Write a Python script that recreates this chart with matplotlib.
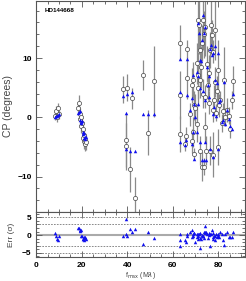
import matplotlib
matplotlib.use('Agg')
import matplotlib.pyplot as plt
from matplotlib.ticker import MultipleLocator

plt.rcParams['font.family'] = ['Liberation Sans', 'DejaVu Sans']

star = 'HD144668'

# spatial frequency (Mlambda), observed CP, its error, model CP, residual (sigma)
freq = [8.0, 8.5, 9.0, 9.5, 10.0,
        18.5, 18.8, 19.0, 19.2, 19.5, 19.8, 20.0, 20.3, 20.5, 20.8, 21.0, 21.3, 21.5, 21.8,
        38.2, 40.0, 42.0, 39.5, 39.3, 41.4, 43.6, 47.0, 49.3, 51.7,
        63.4, 63.4, 63.2, 66.3, 66.3, 66.0, 65.6, 68.8, 68.6, 69.2, 69.0, 68.4, 69.2,
        71.0, 71.4, 71.8, 70.6, 71.0, 71.8, 71.2, 70.8, 72.0, 73.0,
        73.5, 74.2, 73.0, 73.6, 76.2, 77.0, 77.3, 77.6, 78.4, 80.0, 82.4,
        73.4, 74.0, 75.5, 76.0, 77.5, 78.0, 79.0, 80.2, 81.0, 82.0, 83.0,
        84.0, 84.6, 86.0, 86.5, 74.0, 74.5, 73.8, 77.5, 80.0, 76.5,
        79.5, 75.0, 72.5, 75.8, 78.5, 67.5, 70.0, 81.5, 85.0]
cp_obs = [0.3, 1.0, 0.0, 1.5, 0.5,
          1.5, 2.5, 0.5, -0.3, -1.5, 0.0, -1.0, -2.0, -3.5, -4.0, -3.0, -4.5, -3.8, -4.2,
          4.7, 5.0, 3.2, -3.9, -4.9, -8.8, -13.6, 7.1, -2.6, 6.1,
          12.6, 3.8, -2.8, 11.5, 6.6, -3.2, -4.5, 6.3, 5.4, 2.0, -2.5, -4.0, -6.2,
          16.4, 15.6, 11.4, 9.1, 7.1, 6.3, 4.9, -1.1, -5.6, -8.3,
          16.4, 15.3, 12.5, 14.0, 11.4, 15.6, 13.9, 11.1, 14.7, 8.0, 6.3,
          4.0, 3.5, 5.4, 2.5, 1.2, 3.0, 0.8, 2.0, 3.0, 1.0, 0.1,
          1.2, 0.3, 2.9, 6.1, -1.6, -5.6, -8.3, -6.3, -5.0, -5.6,
          4.5, 9.0, 8.5, 7.5, 6.0, 0.5, 1.5, -1.0, -2.0]
cp_err = [0.8, 0.9, 0.8, 1.0, 0.8,
          1.0, 1.3, 1.0, 1.0, 1.2, 1.0, 1.0, 1.2, 1.0, 1.3, 1.0, 1.2, 1.0, 1.3,
          2.3, 2.3, 1.8, 4.5, 4.0, 3.8, 3.6, 2.5, 3.8, 6.0,
          3.0, 4.0, 3.0, 1.5, 3.5, 1.5, 1.2, 3.0, 3.0, 2.5, 2.5, 2.0, 1.0,
          5.0, 5.0, 4.0, 3.5, 4.0, 3.0, 3.0, 3.0, 2.5, 2.5,
          5.0, 5.0, 3.0, 4.0, 3.0, 5.0, 2.5, 2.0, 5.0, 5.0, 5.5,
          2.5, 2.0, 2.5, 2.0, 2.0, 2.5, 1.5, 2.0, 1.5, 1.5, 1.5,
          2.0, 1.5, 1.5, 2.5, 2.5, 2.5, 1.5, 3.8, 3.0, 2.5,
          2.5, 3.0, 3.5, 3.0, 2.5, 2.0, 2.5, 1.5, 1.5]
cp_mod = [0.0, 0.2, 0.3, 0.4, 0.5,
          0.8, 0.9, 1.0, -0.5, -0.8, -1.0, -0.7, -2.5, -2.8, -2.6, -3.5, -3.3, -3.6, -3.4,
          3.6, 4.0, 4.3, 0.8, -5.3, -5.6, -5.6, 0.6, 0.5, 0.6,
          9.9, 4.3, -4.2, 9.9, 3.7, -3.9, -4.6, 7.1, 3.2, 2.3, -2.5, -4.5, -7.0,
          15.9, 14.2, 9.7, 7.7, 6.9, 5.0, 2.3, -2.5, -4.2, -7.2,
          17.3, 15.3, 13.1, 14.2, 11.6, 12.2, 10.5, 10.8, 12.0, 10.8, 6.0,
          4.5, 3.0, 5.5, 3.5, 0.6, 1.7, 0.3, 2.6, 2.9, -0.5, -1.2,
          1.2, -0.3, -1.9, 4.0, -4.2, -7.2, -7.2, -6.7, -5.3, -5.3,
          5.8, 8.5, 9.5, 7.0, 6.3, 1.2, 0.0, -0.8, -1.5]
resid = [0.7, -0.3, -1.1, -1.5, -0.3,
         2.0, 2.0, 1.1, 1.3, 1.3, -0.3, -0.3, -1.1, -1.0, -0.5, -1.5, -0.7, -0.9, -1.2,
         -0.3, -0.3, 0.8, 4.6, 0.2, 1.7, 1.7, -2.6, 1.0, -0.8,
         0.3, -1.5, -3.2, -0.2, 0.4, -2.1, -1.3, -0.2, 1.5, 0.7, 0.2, -0.6, 0.5,
         -1.0, 0.3, -3.6, -0.5, 0.2, 0.7, -0.3, 0.4, -0.8, 0.1,
         -0.2, 1.0, -0.4, -0.9, 0.2, 0.4, 1.3, -0.6, -1.5, 0.3, -2.9,
         -0.3, 0.6, -0.9, 0.1, 0.5, -0.2, 0.3, -0.5, 1.0, -1.3, 0.4,
         1.0, -0.5, -0.7, 0.9, 2.6, 0.8, 0.9, -1.0, -0.4, -3.2,
         -0.6, 0.2, -1.2, 0.5, -0.2, 0.8, -2.0, 0.3, -0.6]

fig = plt.figure(figsize=(2.46, 2.81), dpi=100)
ax = fig.add_axes([0.148, 0.245, 0.848, 0.753])
ax2 = fig.add_axes([0.148, 0.086, 0.848, 0.159])

axcol = '#555555'
for a in (ax, ax2):
    for s in a.spines.values():
        s.set_color(axcol)
        s.set_linewidth(0.8)
    a.tick_params(which='both', direction='in', top=True, right=True,
                  colors=axcol, labelcolor='black', labelsize=6, width=0.6)
    a.tick_params(which='major', length=4)
    a.tick_params(which='minor', length=2)
    a.set_xlim(0, 91.8)
    a.xaxis.set_major_locator(MultipleLocator(20))
    a.xaxis.set_minor_locator(MultipleLocator(5))

ax.errorbar(freq, cp_obs, yerr=cp_err, fmt='none', ecolor='#8a8a8a',
            elinewidth=0.9, capsize=0, zorder=1)
ax.plot(freq, cp_obs, 'o', mfc='white', mec='#444444', mew=0.5, ms=3, zorder=2)
ax.plot(freq, cp_mod, '^', color='#1010ee', ms=2.5, mew=0, zorder=3)
ax.set_ylim(-16, 19.7)
ax.yaxis.set_major_locator(MultipleLocator(10))
ax.yaxis.set_minor_locator(MultipleLocator(2))
ax.set_xticklabels([])
ax.set_ylabel('CP (degrees)', fontsize=7.5, color='#444444', labelpad=3)
ax.text(0.04, 0.955, star, transform=ax.transAxes, fontsize=4.5,
        fontweight='bold', va='center')
for lab in ax.get_yticklabels():
    lab.set_fontweight('bold')

ax2.axhline(0, color='#aaaaaa', lw=1.5, zorder=1)
for lv in (-5, -3, 3, 5):
    ax2.axhline(lv, color='#777777', lw=0.6, ls=(0, (2, 1.5)), zorder=1)
ax2.plot(freq, resid, '^', color='#1010ee', ms=2.5, mew=0, zorder=3)
ax2.set_ylim(-6.2, 6.5)
ax2.yaxis.set_major_locator(MultipleLocator(5))
ax2.yaxis.set_minor_locator(MultipleLocator(1))
ax2.set_ylabel('Err (σ)', fontsize=6, color='#444444', labelpad=5)
ax2.set_xlabel(r'f$_{\rm max}$ (M$\lambda$)', fontsize=5, color='#444444', labelpad=1)
for lab in ax2.get_yticklabels() + ax2.get_xticklabels():
    lab.set_fontweight('bold')

fig.savefig('out.png', dpi=100)
